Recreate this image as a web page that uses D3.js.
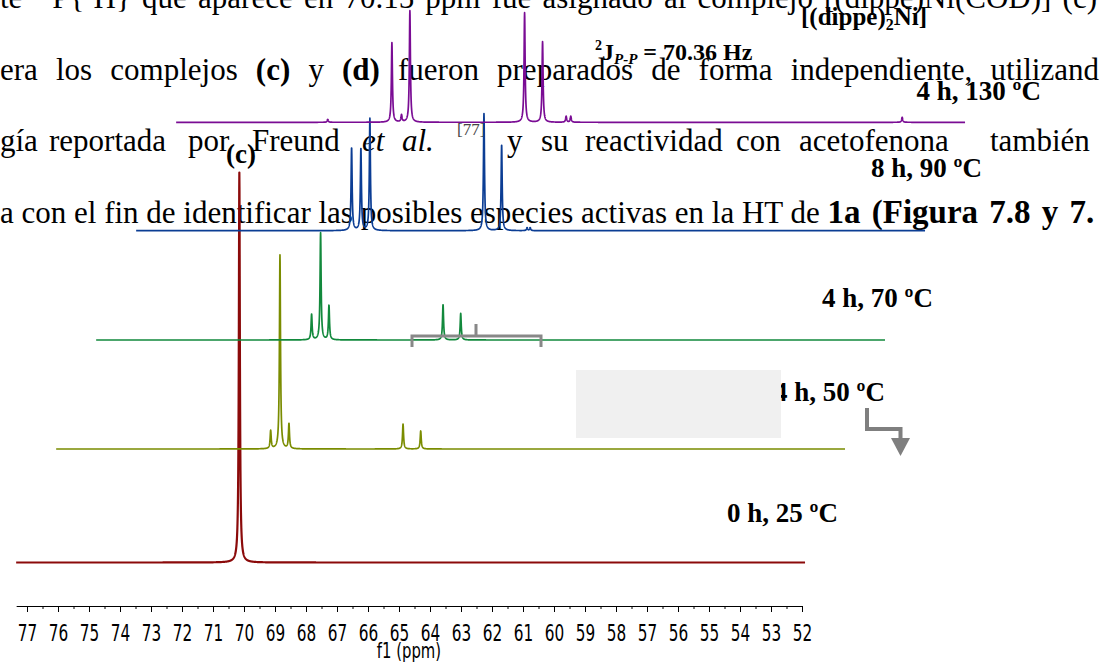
<!DOCTYPE html>
<html><head><meta charset="utf-8">
<script src="https://cdn.jsdelivr.net/npm/d3@7"></script>
<style>html,body{margin:0;padding:0;background:#fff;overflow:hidden}</style>
</head><body>
<svg id="c" width="1099" height="662" xmlns="http://www.w3.org/2000/svg"></svg>
<script>
// ---------- data ----------
const tickLabels = [77,76,75,74,73,72,71,70,69,68,67,66,65,64,63,62,61,60,59,58,57,56,55,54,53,52];
const axisTitle = "f1 (ppm)";
const spectrumLabels = ["0 h, 25 ºC", "4 h, 50 ºC", "4 h, 70 ºC", "8 h, 90 ºC", "4 h, 130 ºC"];
const spectrumColors = ["#8b0a0a", "#7a8c00", "#12893c", "#0b3d94", "#7a0c94"];
// peak lists: [ppm, intensity]
const peaks25 = [[70.15, 390]];
const peaks50 = [[70.43, 18], [70.13, 194], [69.84, 25], [66.16, 25], [65.59, 18]];
const peaks70 = [[70.40, 25.5], [70.11, 107], [69.84, 34.5], [66.16, 35.5], [65.59, 26.5]];
const peaks90 = [[70.40, 83], [70.10, 82], [69.81, 112], [66.13, 117], [65.56, 86], [64.74, 3], [64.64, 3]];
const peaks130 = [[72.46, 3], [70.39, 79.5], [70.08, 7], [69.81, 111.5], [66.11, 109.5], [65.53, 80.5], [64.77, 6], [64.62, 6], [53.93, 5]];
const allPeaks = [peaks25, peaks50, peaks70, peaks90, peaks130];

const textLine1 = ["te","\u00B3\u00B9P{\u00B9H}","que","aparece","en","70.15","ppm","fue","asignado","al","complejo","[(dippe)Ni(COD)]","(c)"];
const textLine2 = [["era"],["los"],["complejos"],["(c)","b"],["y"],["(d)","b"],["fueron"],["preparados"],["de"],["forma"],["independiente,"],["utilizando"]];
const textLine3 = [["gía",0],["reportada",49],["por",188],["Freund",252],["et",362,"i"],["al.",402,"i"],["[77]",457,"s"],["y",507],["su",541],["reactividad",585],["con",736],["acetofenona",799],["también",990]];
const textLine4a = "a con el fin de identificar las posibles especies activas en la HT de ";
const textLine4b = "1a (Figura 7.8 y 7.";

// ---------- layout ----------
const svg = d3.select("#c");
svg.append("rect").attr("width",1099).attr("height",662).attr("fill","#fff");
const serif = "'Liberation Serif','Times New Roman',serif";
const FS = 31;

const x = d3.scaleLinear().domain([77.35, 52]).range([16.15, 802]);
const y = d3.scaleLinear().domain([0, 400]).range([0, 400]);
const xShift = [0, 40, 80, 120, 160];
const baseY = [562.5, 449, 340, 230.7, 122.3];
const ppmStart = 77.35, ppmEnd = 51.9;

// ---------- background document text ----------
const tg = svg.append("g").attr("font-family", serif).attr("font-size", FS).attr("fill","#000");
function styleWord(t, s, yb) {
  t.attr("y", s==="s" ? yb-16 : yb);
  if (s==="b") t.attr("font-weight","bold");
  if (s==="i") t.attr("font-style","italic");
  if (s==="s") t.attr("font-size",17).attr("fill","#444");
  return t;
}
function justify(words, yb, x0, xEnd) {
  const els = words.map(([w, s]) => styleWord(tg.append("text").text(w), s, yb));
  const widths = els.map(e => e.node().getComputedTextLength());
  const gap = (xEnd - x0 - d3.sum(widths)) / (words.length - 1);
  let cx = x0;
  els.forEach((e, i) => { e.attr("x", cx); cx += widths[i] + gap; });
}
justify(textLine1.map(w => [w]), 8, 0, 1097);
justify(textLine2, 80, 0, 1099 + 15.5);
textLine3.forEach(([w, px, s]) => styleWord(tg.append("text").attr("x", px).text(w), s, 151));
const l4 = tg.append("text").attr("x",0).attr("y",223);
l4.append("tspan").text(textLine4a);
l4.append("tspan").attr("font-weight","bold").attr("font-size",33).attr("word-spacing",3).text(textLine4b);

// ---------- spectra ----------
const step = 0.004;
const gamma = 0.02;
const grid = d3.range(ppmStart, ppmEnd - 1e-9, -step);
allPeaks.forEach((pk, i) => {
  const pts = grid.map(p => {
    let v = 0;
    pk.forEach(([c, h]) => { const d = p - c; v += h * gamma*gamma/(d*d + gamma*gamma); });
    return [x(p) + xShift[i], baseY[i] - y(v)];
  });
  svg.append("path").attr("d", d3.line()(pts)).attr("fill","none")
    .attr("stroke", spectrumColors[i]).attr("stroke-width", i===0?2.2:1.7).attr("stroke-linejoin","round");
});

// ---------- annotations ----------
const lab = svg.append("g").attr("font-family", serif).attr("font-weight","bold").attr("font-size",27).attr("fill","#000");
lab.append("text").attr("x", 241).attr("y", 163).attr("text-anchor","middle").attr("font-size",27).text("(c)");
const dip = lab.append("text").attr("x",801).attr("y",25).attr("font-size",25);
dip.append("tspan").text("[(dippe)");
dip.append("tspan").attr("font-size",16).attr("dy",5).text("2");
dip.append("tspan").attr("dy",-5).text("Ni]");
const jt = lab.append("text").attr("x",595).attr("y",60).attr("font-size",24);
jt.append("tspan").attr("font-size",14).attr("dy",-10).text("2");
jt.append("tspan").attr("dy",10).text("J");
jt.append("tspan").attr("font-size",15).attr("font-style","italic").attr("dy",4).text("P-P");
jt.append("tspan").attr("dy",-4).text(" = 70.36 Hz");

const labelPos = [[838,522],[885,401],[933,307],[982,177],[1041,100]];
spectrumLabels.forEach((t,i) => lab.append("text").attr("x",labelPos[i][0]).attr("y",labelPos[i][1])
  .attr("text-anchor","end").text(t));

// grey box partially covering the 50 ºC label
svg.append("rect").attr("x",576).attr("y",370).attr("width",205).attr("height",68).attr("fill","#f0f0f0");

// bracket
svg.append("path").attr("d","M412,347V336H541V347M476,336V324").attr("fill","none")
  .attr("stroke","#888").attr("stroke-width",3);
// arrow
svg.append("path").attr("d","M867,408V429H900.5V440").attr("fill","none").attr("stroke","#7f7f7f").attr("stroke-width",4);
svg.append("path").attr("d","M891,438L910,438L900.5,456Z").attr("fill","#7f7f7f");

// ---------- axis ----------
const ag = svg.append("g").attr("transform","translate(0,606)");
const minor = d3.range(52.5, 77.01, 1);
ag.append("g").call(d3.axisBottom(x).tickValues(minor).tickSize(3).tickFormat("").tickSizeOuter(0))
  .call(g => g.select(".domain").remove())
  .selectAll("line").attr("stroke","#000");
const maj = ag.append("g").call(d3.axisBottom(x).tickValues(tickLabels).tickSize(6).tickSizeOuter(0).tickFormat(d3.format("d")));
maj.select(".domain").attr("stroke","#000");
maj.selectAll("text").attr("font-family","'DejaVu Sans Condensed','DejaVu Sans',sans-serif")
  .attr("font-size",17).attr("fill","#000").attr("dy",null).attr("y",35/1.35)
  .attr("transform","scale(1,1.35)");
svg.append("text").attr("x",409).attr("y",658).attr("text-anchor","middle")
  .attr("font-family","'DejaVu Sans Condensed','DejaVu Sans',sans-serif").attr("font-size",16.5)
  .attr("transform","translate(409,658) scale(1,1.3) translate(-409,-658)").text(axisTitle);
</script>
</body></html>
